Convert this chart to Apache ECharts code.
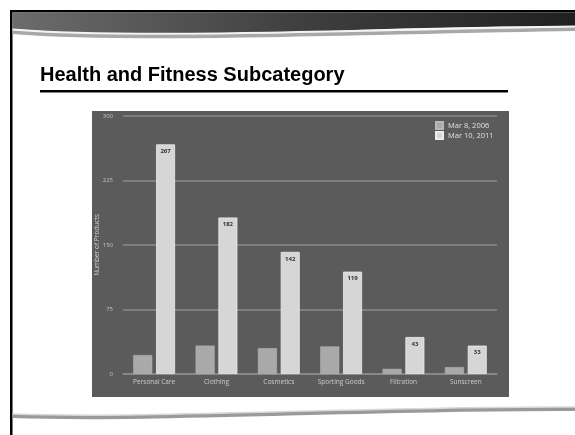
<!DOCTYPE html>
<html>
<head>
<meta charset="utf-8">
<script src="https://cdn.jsdelivr.net/npm/echarts@6/dist/echarts.min.js"></script>
<style>
  html, body { margin: 0; padding: 0; background: #fff; }
  #chart { width: 575px; height: 435px; }
</style>
</head>
<body>
<div id="chart"></div>
<script>
// data
const categories = ['Personal Care', 'Clothing', 'Cosmetics', 'Sporting Goods', 'Filtration', 'Sunscreen']
const mar2006 = [22, 33, 30, 32, 6, 8]
const mar2011 = [267, 182, 142, 119, 43, 33]
const seriesNames = ['Mar 8, 2006', 'Mar 10, 2011']
const yMin = 0
const yMax = 300
const yStep = 75

const chart = echarts.init(document.getElementById('chart'))

const smallFont = 'Open Sans'

const option = {
  animation: false,
  backgroundColor: '#ffffff',
  title: {
    text: 'Health and Fitness Subcategory',
    left: 35,
    top: 60,
    textStyle: {
      fontFamily: 'Liberation Sans',
      fontWeight: 'bold',
      fontSize: 20,
      color: '#000',
    },
  },
  graphic: [
    // slide frame
    { type: 'rect', z: -10, shape: { x: 10, y: 10, width: 565, height: 2.5 }, style: { fill: '#000' } },
    { type: 'rect', z: -10, shape: { x: 10, y: 10, width: 2.5, height: 425 }, style: { fill: '#000' } },
    {
      type: 'polygon', z: -10,
      shape: {
        points: [[12.5, 12.5], [575, 12.5], [575, 26], [500, 26.5], [400, 28.5], [300, 32],
          [200, 35], [120, 35], [60, 32], [12.5, 29]],
      },
      style: {
        fill: {
          type: 'linear', x: 0, y: 0, x2: 1, y2: 0,
          colorStops: [
            { offset: 0, color: '#6c6c6c' },
            { offset: 0.5, color: '#404040' },
            { offset: 1, color: '#202020' },
          ],
        },
      },
    },
    {
      type: 'bezierCurve', z: -9,
      shape: { x1: 12.5, y1: 32, cpx1: 140, cpy1: 42, cpx2: 360, cpy2: 32, x2: 575, y2: 29 },
      style: { fill: null, stroke: '#a8a8a8', lineWidth: 4 },
    },
    {
      type: 'bezierCurve', z: -8,
      shape: { x1: 12.5, y1: 29.5, cpx1: 140, cpy1: 39.5, cpx2: 360, cpy2: 29.5, x2: 575, y2: 26.5 },
      style: { fill: null, stroke: '#f4f4f4', lineWidth: 2 },
    },
    // bottom wave
    {
      type: 'bezierCurve', z: -9,
      shape: { x1: 12.5, y1: 416, cpx1: 150, cpy1: 421, cpx2: 380, cpy2: 408, x2: 575, y2: 409 },
      style: { fill: null, stroke: '#9a9a9a', lineWidth: 4 },
    },
    {
      type: 'bezierCurve', z: -8,
      shape: { x1: 12.5, y1: 414, cpx1: 150, cpy1: 419, cpx2: 380, cpy2: 406, x2: 575, y2: 407 },
      style: { fill: null, stroke: '#d8d8d8', lineWidth: 1.5 },
    },
    // title underline
    { type: 'rect', z: -10, shape: { x: 40, y: 90, width: 468, height: 2.5 }, style: { fill: '#000' } },
    // chart panel
    { type: 'rect', z: -10, shape: { x: 92, y: 111, width: 417, height: 286 }, style: { fill: '#5b5b5b' } },
  ],
  legend: {
    data: seriesNames,
    orient: 'vertical',
    left: 430,
    top: 116,
    itemWidth: 7,
    itemHeight: 7,
    itemGap: 1,
    icon: 'rect',
    textStyle: { color: '#e0e0e0', fontSize: 7.5, fontFamily: smallFont },
  },
  grid: {
    left: 123,
    right: 78,
    top: 116,
    bottom: 61,
  },
  xAxis: {
    type: 'category',
    data: categories,
    axisTick: { show: false },
    axisLine: { show: true, lineStyle: { color: '#8a8a8a', width: 1.5 } },
    axisLabel: {
      interval: 0,
      color: '#cccccc',
      fontSize: 6.5,
      fontFamily: smallFont,
      margin: 5,
    },
  },
  yAxis: {
    type: 'value',
    min: yMin,
    max: yMax,
    interval: yStep,
    name: 'Number of Products',
    nameLocation: 'middle',
    nameGap: 22,
    nameMoveOverlap: false,
    nameTextStyle: { color: '#d0d0d0', fontSize: 6.5, fontFamily: smallFont },
    axisLine: { show: false },
    axisTick: { show: false },
    splitLine: { lineStyle: { color: '#8a8a8a', width: 1.5 } },
    axisLabel: {
      color: '#c4c4c4',
      fontSize: 6,
      fontFamily: smallFont,
      margin: 10,
    },
  },
  series: [
    {
      name: seriesNames[0],
      type: 'bar',
      data: mar2006,
      barWidth: 19,
      barGap: '20%',
      itemStyle: { color: '#a9a9a9', borderColor: '#b8b8b8', borderWidth: 0.5 },
    },
    {
      name: seriesNames[1],
      type: 'bar',
      data: mar2011,
      barWidth: 19,
      itemStyle: { color: '#d6d6d6', borderColor: '#ececec', borderWidth: 0.8 },
      label: {
        show: true,
        position: 'insideTop',
        distance: 4,
        color: '#333333',
        fontSize: 6,
        fontWeight: 'bold',
        fontFamily: smallFont,
      },
    },
  ],
}

chart.setOption(option)
</script>
</body>
</html>
